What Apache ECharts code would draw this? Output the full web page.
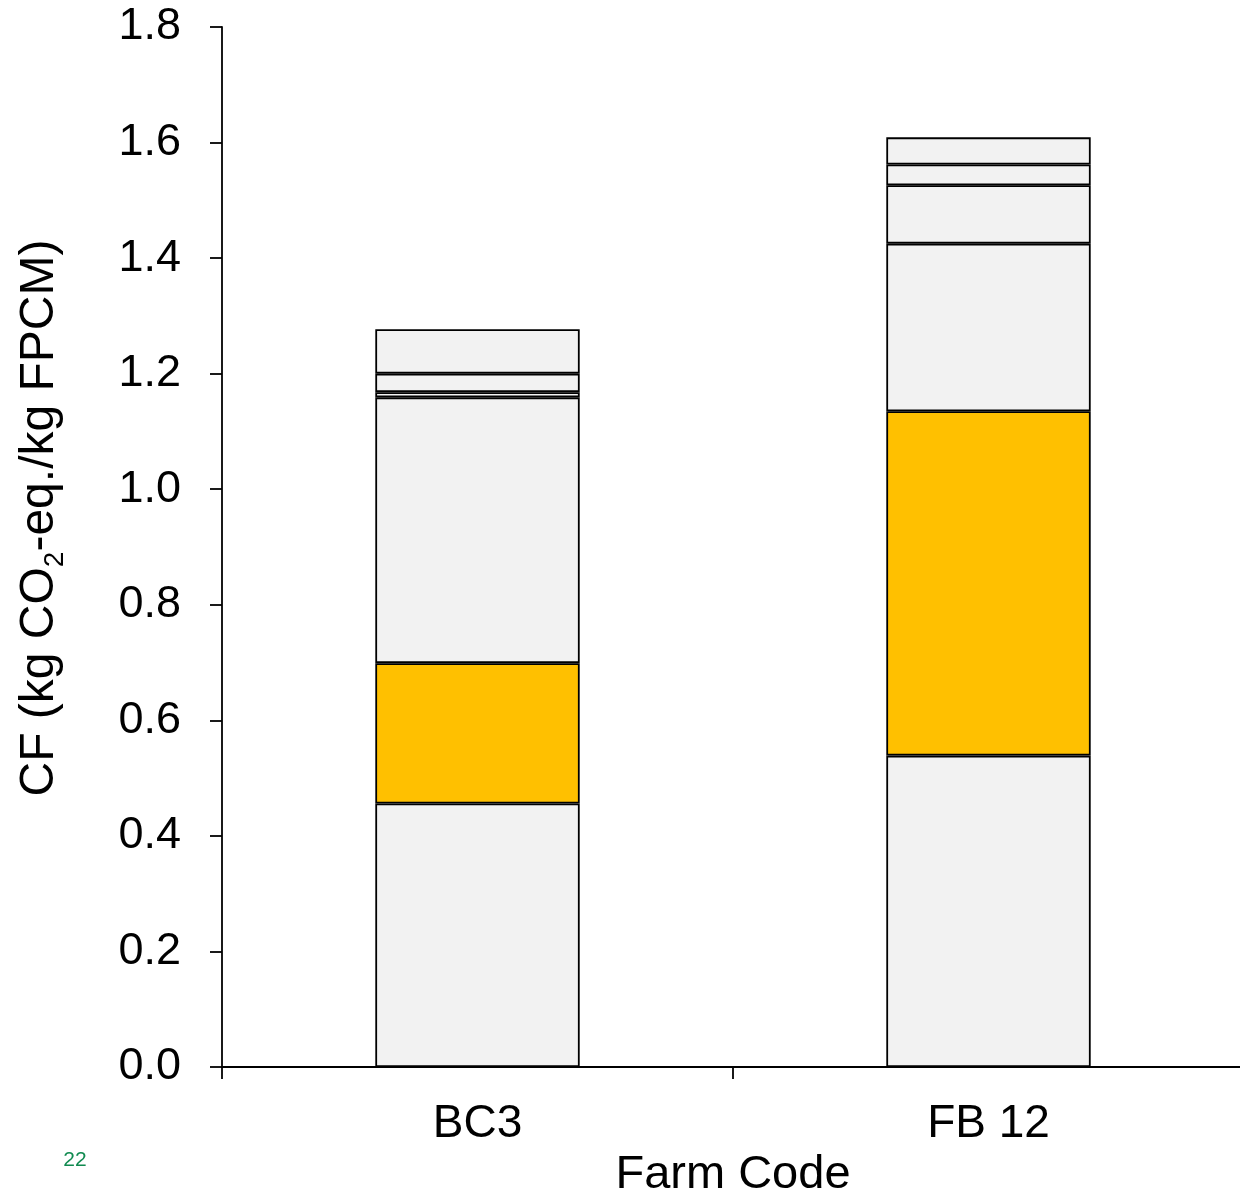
<!DOCTYPE html>
<html>
<head>
<meta charset="utf-8">
<style>
  html, body { margin: 0; padding: 0; background: #ffffff; }
  #chart { width: 1240px; height: 1189px; }
</style>
<script src="https://cdn.jsdelivr.net/npm/echarts@6/dist/echarts.min.js"></script>
</head>
<body>
<div id="chart"></div>
<script>
// ---- Data ----
const categories = ['BC3', 'FB 12'];
const seg1 = [0.456, 0.539];          // bottom (grey)
const seg2 = [0.243, 0.596];          // highlighted (orange)
const seg3 = [0.460, 0.290];
const seg4 = [0.009, 0.101];
const seg5 = [0.032, 0.036];
const seg6 = [0.077, 0.047];          // top
const segColors = ['#f2f2f2', '#ffc000', '#f2f2f2', '#f2f2f2', '#f2f2f2', '#f2f2f2'];
const yTicks = { min: 0, max: 1.8, interval: 0.2 };
const xTitle = 'Farm Code';
const pageNumber = '22';

const FONT = '"Liberation Sans", Arial, sans-serif';
const segments = [seg1, seg2, seg3, seg4, seg5, seg6];

const chart = echarts.init(document.getElementById('chart'), null, { renderer: 'canvas' });

const series = segments.map((d, i) => ({
  type: 'bar',
  stack: 'cf',
  data: d,
  barWidth: '40%',
  itemStyle: { color: segColors[i], borderColor: '#000000', borderWidth: 1.8 },
  emphasis: { disabled: true },
  silent: true
}));

chart.setOption({
  animation: false,
  backgroundColor: '#ffffff',
  grid: { left: 222, top: 27, width: 1022, bottom: 122, containLabel: false, outerBoundsMode: 'none' },
  xAxis: {
    type: 'category',
    data: categories,
    boundaryGap: true,
    axisLine: { show: true, lineStyle: { color: '#000', width: 1.8 } },
    axisTick: { show: true, length: 12, alignWithLabel: false, interval: 0, lineStyle: { color: '#000', width: 1.8 } },
    axisLabel: { color: '#000', fontSize: 46, fontFamily: FONT, margin: 34 },
    name: xTitle,
    nameLocation: 'middle',
    nameGap: 75,
    nameTextStyle: { color: '#000', fontSize: 47, fontFamily: FONT }
  },
  yAxis: {
    type: 'value',
    min: yTicks.min,
    max: yTicks.max,
    interval: yTicks.interval,
    axisLine: { show: true, lineStyle: { color: '#000', width: 1.8 } },
    axisTick: { show: true, length: 12, lineStyle: { color: '#000', width: 1.8 } },
    splitLine: { show: false },
    axisLabel: {
      color: '#000', fontSize: 45, fontFamily: FONT, margin: 41,
      formatter: v => v.toFixed(1)
    }
  },
  graphic: [
    {
      type: 'text',
      x: 40, y: 518,
      rotation: Math.PI / 2,
      style: {
        text: '{a|CF (kg CO}{s|2}{a|-eq./kg FPCM)}',
        align: 'center',
        verticalAlign: 'middle',
        fill: '#000',
        font: '48px ' + FONT,
        rich: {
          a: { fontSize: 48, fontFamily: FONT, fill: '#000', lineHeight: 58, verticalAlign: 'middle' },
          s: { fontSize: 28, fontFamily: FONT, fill: '#000', lineHeight: 28, verticalAlign: 'bottom' }
        }
      }
    },
    {
      type: 'text',
      x: 75, y: 1160,
      style: {
        text: pageNumber,
        align: 'center',
        verticalAlign: 'middle',
        fill: '#108a50',
        font: '21px ' + FONT
      }
    }
  ],
  series: series
});
</script>
</body>
</html>
